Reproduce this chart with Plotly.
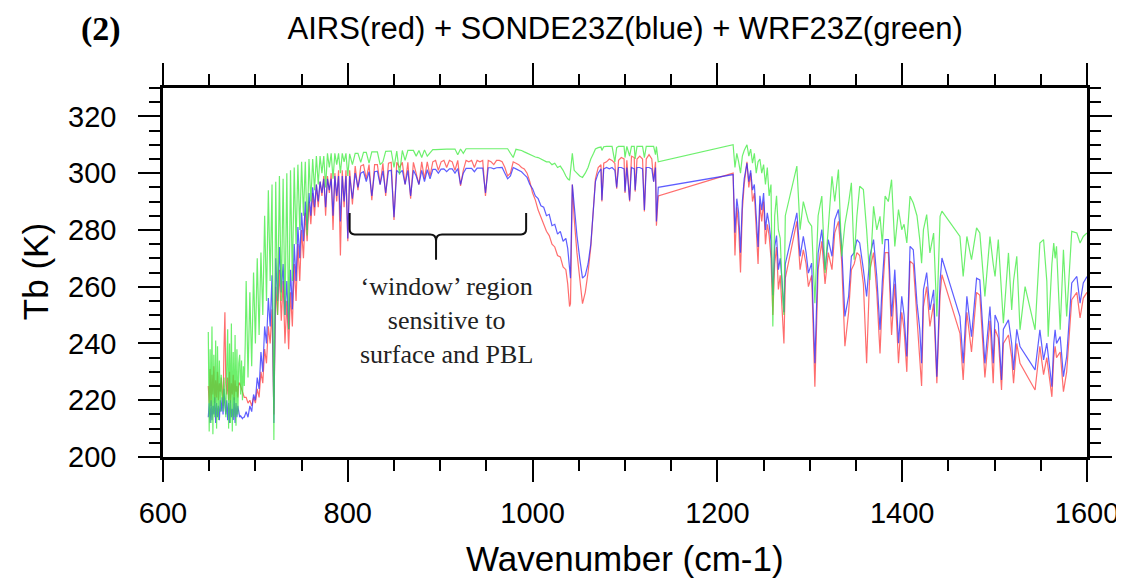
import plotly.graph_objects as go

# ---- channel brightness temperatures ----
# long-wave band, 649-1136 cm-1
wn_lw = [
    649, 650, 651, 652, 653, 654, 655, 656, 657, 658, 659, 660, 661, 662, 663,
    664, 665, 666, 667, 668, 669,
    670, 671, 672, 673, 674, 675, 676, 677, 678, 679, 680, 681, 682,
    683, 684, 685, 686, 687, 688, 689,
    690, 692, 694, 696, 698, 700, 702, 704, 706, 708, 710, 712, 714, 716, 718, 720,
    722, 724, 726, 728, 730, 732, 734, 736, 738, 740, 742, 744, 746, 748, 750, 752,
    754, 756, 758, 760, 762, 764, 766, 768, 770, 772, 774, 776, 778, 780, 782, 784,
    786, 788, 790, 792, 794, 796, 798, 800,
    802, 805, 808, 811, 814, 817, 820, 823, 826, 829, 832, 835, 838, 841, 844, 847,
    850, 853, 856, 859, 862, 865, 868, 871, 874, 877, 880, 883, 886, 889, 892, 895,
    898, 901, 904, 907, 910, 913, 916, 919, 922, 925, 928, 931, 934, 937, 940, 943,
    946, 949, 952, 955, 958, 961, 964, 967, 970, 973, 976, 979, 982, 985, 988,
    991, 994, 997, 1000, 1003, 1006, 1009, 1012, 1015, 1018, 1021, 1024, 1027, 1030,
    1033, 1036, 1038, 1040, 1041, 1043, 1045, 1048, 1051, 1054, 1057, 1060, 1063,
    1066, 1068, 1071,
    1074, 1075, 1077, 1080, 1083, 1086, 1089, 1091, 1093, 1096, 1099, 1100, 1102,
    1105, 1107, 1110, 1111, 1113, 1116, 1119, 1121, 1123, 1126, 1129, 1131, 1133,
    1134, 1136,
]
airs_lw = [
    225, 219, 231, 218, 229, 222, 232, 219, 227, 221, 230, 220, 226, 223, 228,
    224, 218, 238, 251, 226, 222,
    228, 220, 230, 219, 226, 222, 229, 220, 227, 223, 225, 221, 226,
    226, 225, 224, 223, 222, 221, 221,
    221, 219, 220, 218, 221, 219, 224, 221, 230, 226, 238, 233, 246, 240, 252, 215,
    260, 250, 266, 248, 262, 240, 255, 238, 258, 246, 268, 255, 275, 262, 280, 270,
    286, 276, 290, 282, 293, 285, 296, 288, 297, 292, 299, 285, 299, 293, 300, 280,
    300, 290, 301, 271, 301, 288, 301, 276,
    301, 289, 302.5, 294, 302.5, 303, 298, 303, 290.5, 303, 303, 296, 303.5, 292, 303.5, 303.8,
    283.5, 303.8, 302, 303.8, 296, 303.8, 291, 303.8, 300, 296, 304, 298, 304, 299, 304, 304.5,
    301, 304, 304.5, 302, 304.5, 304, 301, 304.5, 295.5, 301, 304.5, 304, 304.5, 302, 304.5, 304,
    304.5, 292, 304.5, 304, 303, 304.5, 304.5, 304, 302, 299, 300, 304, 303.5, 303, 302,
    301.5, 300, 297, 293, 290.5, 287, 284.5, 282.5, 279.5, 278, 275, 274, 271, 270.5,
    267, 266, 261, 253, 254, 296, 284, 272, 262, 254, 258, 265, 274,
    290, 298, 302,
    303, 290, 303.5, 304, 305, 304.5, 303.5, 294.5, 304.5, 305.5, 305, 293, 304.5,
    290, 306, 305.5, 293.5, 305, 306, 305, 286.5, 305, 306.5, 305, 297, 304,
    281.5, 292,
]
sonde_lw = [
    214, 219, 212, 220, 213, 218, 215, 221, 212, 219, 214, 218, 213, 220, 216,
    221, 215, 224, 218, 215, 220,
    213, 219, 212, 220, 214, 217, 213, 221, 212, 219, 214, 218, 215,
    214, 214.5, 214, 213.5, 214, 214, 215,
    216, 214, 218, 216, 222, 220, 228, 224, 237, 230, 246, 240, 256, 246, 264, 212,
    270, 255, 274, 258, 268, 250, 262, 245, 266, 252, 275, 262, 281, 270, 286, 276,
    290, 280, 293, 285, 295, 288, 296, 290, 297, 293, 298, 288, 298, 294, 298, 285,
    299, 292, 299, 283, 299, 290, 299, 277,
    299, 291, 300, 295, 300, 300.5, 297, 300.5, 292, 300.5, 300.7, 296, 300.8, 293, 300.8, 301,
    284.5, 301, 300, 301, 296, 301, 292, 301, 299, 296, 301, 297, 301.2, 298, 301.3, 301.3,
    300, 301.4, 301.5, 300.5, 301.5, 301.5, 300, 301.6, 296, 300, 301.7, 301.7, 301.7, 300.5, 301.8, 301.8,
    301.8, 293, 301.9, 301.9, 301.5, 301.9, 302, 302, 300, 298, 299, 302, 301.5, 301, 300.5,
    299.5, 298.5, 296, 294.5, 292, 291, 288.5, 288, 285, 285.5, 281.5, 282, 278.5, 279.5,
    276, 277, 273.5, 265, 263, 296, 288, 278, 270, 263, 264, 268, 275,
    290, 297, 300,
    301.5, 290.5, 301.5, 302, 301.5, 302, 301, 295, 302, 302, 301.5, 293.5, 302,
    290.5, 302, 301.5, 294, 302, 302, 301.5, 287, 302, 302, 301.5, 297, 302,
    283, 295,
]
wrf_lw = [
    244, 209, 238, 212, 246, 208, 236, 214, 241, 210, 239, 213, 234, 216, 229,
    222, 216, 228, 220, 214, 232,
    245, 210, 240, 212, 247, 209, 237, 214, 243, 211, 238, 215, 233,
    236, 222, 234, 220, 232, 225, 240,
    262, 228, 258, 232, 265, 240, 270, 243, 272, 250, 285, 255, 294, 262, 296, 206,
    297, 250, 299, 255, 298, 250, 300, 245, 301, 262, 302, 275, 303, 280, 304, 285,
    304, 278, 305, 290, 305, 294, 306, 296, 306, 300, 306, 295, 307, 302, 307, 298,
    307, 303, 307, 300, 307, 304, 307, 299,
    306.8, 303, 307, 307, 303.8, 307.3, 307.3, 303.5, 307.5, 307.5, 307.5, 303, 304, 307.7, 307.7, 307.8,
    302, 307.8, 299.5, 308, 304.5, 308, 308, 308, 306, 308, 305.5, 308.2, 306, 307, 308.3, 308.3,
    308.4, 308.4, 308.4, 308.5, 308.5, 308.5, 308.5, 306.5, 308.5, 307, 308.6, 308.6, 308.6, 308.6, 308.7, 308.7,
    308.7, 308.5, 308.7, 308.7, 308.7, 308.7, 308.7, 308.7, 308.6, 308.6, 307, 305.5, 308.4, 308.2, 308,
    307.5, 307, 306.5, 306, 305.7, 305.5, 305, 304.5, 304, 304, 303, 303.5, 302, 302.5,
    301, 299, 298, 297.5, 300, 307, 301, 300, 299, 298.5, 300, 302, 305,
    307, 308.5, 309,
    309.2, 308, 309.3, 309.4, 309.3, 309.4, 304, 309, 309.4, 309.4, 309.4, 305.5, 309.4,
    306, 309.4, 309.4, 305, 309.4, 309.4, 309.4, 305.5, 309.4, 309.4, 309.4, 309.4, 306.5,
    309.4, 304,
]

# mid-wave band, 1217-1600 cm-1
wn_mw = [
    1217, 1219, 1221, 1223, 1225, 1227, 1229, 1232, 1234, 1236, 1238, 1240, 1242, 1244,
    1246, 1248, 1250, 1252, 1254, 1256, 1258, 1260, 1262, 1264, 1266, 1268, 1270, 1272, 1273.5,
    1286, 1289.5, 1293, 1296, 1298.5, 1302, 1305.5, 1309, 1313, 1316.5,
    1320, 1324, 1327, 1331, 1334.5, 1338, 1342, 1345, 1348, 1351,
    1354, 1358, 1361.5, 1365, 1369, 1372.5, 1376, 1378.5, 1381.5, 1385,
    1388.5, 1392, 1396, 1399.5, 1402, 1405, 1408.5, 1412, 1416, 1419,
    1421, 1423, 1426.5, 1430, 1434, 1437.5, 1441, 1443,
    1462.5, 1466, 1470, 1475, 1480.5, 1484, 1489.5, 1495, 1498.5, 1500.5,
    1504, 1507.5, 1509.5, 1515, 1518.5, 1520.5, 1524, 1527.5, 1533, 1543.8,
    1549, 1553, 1556.5, 1558, 1562, 1564, 1565.5, 1567, 1571, 1574.5,
    1578, 1583.5, 1589, 1592.5, 1596, 1600,
]
airs_mw = [
    300, 271, 288, 281, 265, 287, 296, 304, 295, 300, 290, 293, 281, 268,
    289, 283, 290, 275, 282, 278, 270, 250, 268, 274, 259, 264, 252, 240, 263,
    283, 266, 273, 268, 260, 264, 224.8, 266, 276, 261,
    272, 266, 279, 283, 269, 239, 251, 266, 268, 272,
    271, 261, 233, 266, 272, 258, 236.5, 256, 272, 272,
    243, 261, 233, 251, 245, 230, 269, 268, 249, 238,
    225, 253, 260, 246, 254, 226, 257, 264.2,
    243.6, 227.1, 251, 237, 258, 257, 228, 248, 226, 245,
    242, 223.6, 240, 243, 235, 226, 240, 233, 230, 223.6,
    239, 229, 235, 231, 221.2, 235, 239, 235, 237, 223,
    230, 255.4, 258, 249, 256, 258,
]
sonde_mw = [
    299.5, 279, 291, 286, 272, 290, 298, 303.5, 297, 301, 294, 296, 286, 274,
    292, 287, 293, 280, 286, 282, 276, 257, 274, 278, 266, 270, 262, 251, 268,
    286, 270.7, 277.7, 272, 264.8, 268.3, 233, 271.8, 280.1, 266,
    276.6, 270.7, 283.6, 287.2, 274.2, 249.5, 256.6, 270.7, 272, 276.6,
    275.4, 266, 256.6, 270.7, 276.6, 263.6, 244.8, 262, 276.6, 276.6,
    249.5, 266, 240.1, 256.6, 250, 235.4, 274.2, 273, 254.2, 245,
    233, 258.9, 265, 251.8, 258.9, 228.3, 262, 270.1,
    249.5, 233, 256.6, 242.4, 263, 262.4, 233, 253, 233, 250,
    247.1, 227.1, 245, 248.3, 240, 230.7, 245, 238.9, 236, 230.7,
    244.8, 234.2, 240.1, 236, 224.8, 240, 244.8, 240, 242.4, 228.3,
    235.4, 261.3, 263.6, 254.2, 261.3, 263.6,
]
wrf_mw = [
    310, 302, 307, 304, 300, 306, 308, 310, 306, 308.5, 303.5, 307, 300, 304,
    305, 300, 303, 296, 302, 292, 296, 246, 285, 292, 280, 277, 260, 250, 285,
    302.5, 280.1, 290, 286, 283, 281.3, 254.2, 285, 291.9, 264.8,
    282, 298.9, 290, 301.3, 270.7, 282, 289.5, 296.6, 269.5, 285,
    295.4, 294.2, 280, 262.4, 288.3, 280, 284.8, 275, 291.9, 290,
    297.7, 274.2, 287.2, 280.1, 282, 275.4, 291.9, 289.5, 285, 276.6,
    268.3, 280.1, 285.4, 271.9, 278.9, 249.5, 284.8, 286.6,
    277.7, 263.6, 277.7, 269.5, 280.7, 278.9, 256.6, 277.7, 268, 263.6,
    276.6, 255, 247.1, 271.9, 251.8, 262, 270.7, 244.8, 260, 244.8,
    275.4, 276.6, 262, 242.4, 268, 275.4, 270, 274.2, 244.8, 273,
    249.5, 279.5, 278.9, 275.4, 277.7, 278.9,
]

for arr in (airs_lw, sonde_lw, wrf_lw):
    assert len(arr) == len(wn_lw), (len(arr), len(wn_lw))
for arr in (airs_mw, sonde_mw, wrf_mw):
    assert len(arr) == len(wn_mw), (len(arr), len(wn_mw))

x_ticks = [600, 800, 1000, 1200, 1400, 1600]
y_ticks = [200, 220, 240, 260, 280, 300, 320]

SANS = "Liberation Sans, Arial, Helvetica, sans-serif"
SERIF = "Liberation Serif, Times New Roman, serif"

wn = wn_lw + wn_mw
series = [
    ('AIRS', airs_lw + airs_mw, 'rgba(255,60,60,0.75)'),
    ('SONDE23Z', sonde_lw + sonde_mw, 'rgba(40,40,255,0.75)'),
    ('WRF23Z', wrf_lw + wrf_mw, 'rgba(60,235,60,0.75)'),
]

fig = go.Figure()
for name, tb, color in series:
    fig.add_trace(go.Scatter(
        x=wn, y=tb, mode='lines', name=name,
        line=dict(color=color, width=1.2),
        showlegend=False,
    ))

axis_style = dict(
    showline=True, linewidth=2.5, linecolor='black', mirror='allticks',
    ticks='outside', ticklen=22, tickwidth=2, tickcolor='black',
    showgrid=False, zeroline=False, automargin=False,
    tickfont=dict(family=SANS, size=29, color='black'),
)
fig.update_xaxes(
    range=[600, 1600], tickmode='array', tickvals=x_ticks,
    ticklabelstandoff=6,
    minor=dict(ticks='outside', ticklen=11, tickwidth=1.5, tickcolor='black',
               tick0=600, dtick=50, showgrid=False),
    **axis_style,
)
fig.update_yaxes(
    range=[200, 330], tickmode='array', tickvals=y_ticks,
    ticklabelstandoff=16,
    minor=dict(ticks='outside', ticklen=11, tickwidth=1.5, tickcolor='black',
               tick0=200, dtick=5, showgrid=False),
    **axis_style,
)

# curly brace over the window channels
brace = ("M 802,286 V 280.2 Q 802,278.4 807.5,278.4 H 889 "
         "Q 895.5,278.4 895.5,276.2 V 269.5 "
         "M 895.5,276.2 Q 895.5,278.4 902,278.4 H 987.5 "
         "Q 993,278.4 993,280.2 V 286")

# the page body keeps an 8 px margin, so the figure is sized 8 px smaller
fig.update_layout(
    width=1116, height=573,
    margin=dict(l=155, r=37, t=80, b=124),
    paper_bgcolor='white', plot_bgcolor='white',
    title=dict(text='AIRS(red) + SONDE23Z(blue) + WRF23Z(green)',
               x=0.553, xanchor='center', y=0.965, yanchor='middle',
               font=dict(family=SANS, size=31, color='black')),
    shapes=[dict(type='path', path=brace, xref='x', yref='y',
                 line=dict(color='#111111', width=2))],
    annotations=[
        dict(text='<b>(2)</b>', x=-0.0666, y=1.16, xref='paper', yref='paper',
             xanchor='center', yanchor='middle', showarrow=False,
             font=dict(family=SERIF, size=34, color='black')),
        dict(text='Wavenumber (cm-1)', x=0.5, y=-0.274, xref='paper', yref='paper',
             xanchor='center', yanchor='middle', showarrow=False,
             font=dict(family=SANS, size=35, color='black')),
        dict(text='Tb (K)', x=-0.1385, y=0.501, xref='paper', yref='paper',
             xanchor='center', yanchor='middle', textangle=-90, showarrow=False,
             font=dict(family=SANS, size=35, color='black')),
        dict(text='‘window’ region<br>sensitive to<br>surface and PBL',
             x=907, y=248, xref='x', yref='y', showarrow=False,
             font=dict(family=SERIF, size=26, color='#222222')),
    ],
)

fig.write_html("out.html")
